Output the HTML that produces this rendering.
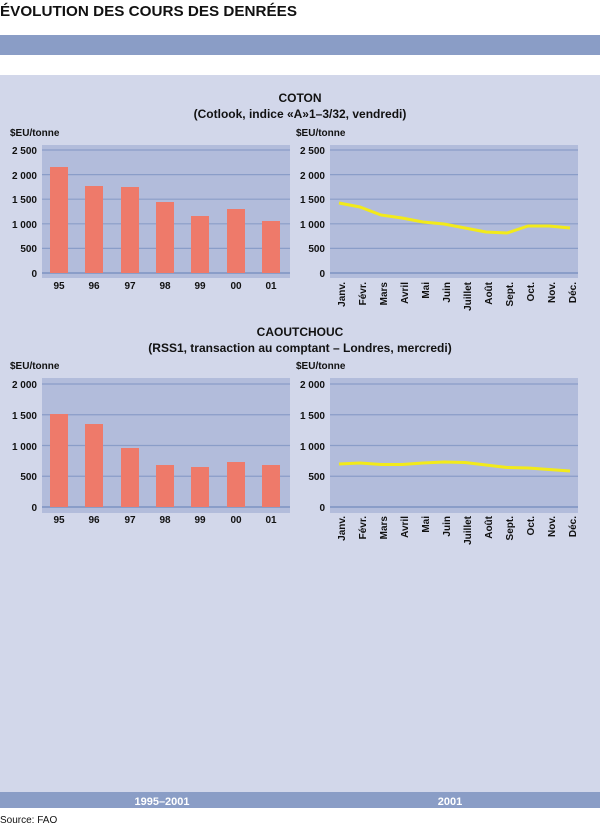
<!DOCTYPE html>
<html><head><meta charset="utf-8"><style>
body{margin:0;background:#fff;}
svg text{font-family:"Liberation Sans",sans-serif;font-weight:bold;fill:#111;}
</style></head><body>
<svg width="600" height="826" xmlns="http://www.w3.org/2000/svg">
<text x="0" y="16" font-size="15" textLength="297" lengthAdjust="spacingAndGlyphs">ÉVOLUTION DES COURS DES DENRÉES</text>
<rect x="0" y="35" width="600" height="20" fill="#8a9dc6"/>
<rect x="0" y="75" width="600" height="717" fill="#d2d7ea"/>
<rect x="0" y="792" width="600" height="16" fill="#8a9dc6"/>
<text x="162" y="805" font-size="11" text-anchor="middle" style="fill:#fff">1995–2001</text>
<text x="450" y="805" font-size="11" text-anchor="middle" style="fill:#fff">2001</text>
<text x="0" y="823" font-size="10" style="font-weight:normal">Source: FAO</text>

<text x="300" y="102" font-size="12" text-anchor="middle">COTON</text>
<text x="300" y="118" font-size="12" text-anchor="middle">(Cotlook, indice «A»1–3/32, vendredi)</text>
<text x="300" y="336" font-size="12" text-anchor="middle">CAOUTCHOUC</text>
<text x="300" y="352" font-size="12" text-anchor="middle">(RSS1, transaction au comptant – Londres, mercredi)</text>

<g font-size="10">
<text x="10" y="136">$EU/tonne</text>
<rect x="42" y="145" width="248" height="133" fill="#b2bcdb"/>
<g stroke="#8a9dc8" stroke-width="1.2">
<line x1="42" x2="290" y1="150" y2="150"/><line x1="42" x2="290" y1="174.6" y2="174.6"/><line x1="42" x2="290" y1="199.2" y2="199.2"/><line x1="42" x2="290" y1="223.8" y2="223.8"/><line x1="42" x2="290" y1="248.4" y2="248.4"/><line x1="42" x2="290" y1="273" y2="273" stroke-width="2"/>
</g>
<g text-anchor="end"><text x="37" y="154">2 500</text><text x="37" y="179">2 000</text><text x="37" y="203">1 500</text><text x="37" y="228">1 000</text><text x="37" y="252">500</text><text x="37" y="277">0</text></g>
<g fill="#ee7a6a">
<rect x="50" y="167" width="18" height="106"/><rect x="85" y="186" width="18" height="87"/><rect x="121" y="187" width="18" height="86"/><rect x="156" y="202" width="18" height="71"/><rect x="191" y="216" width="18" height="57"/><rect x="227" y="209" width="18" height="64"/><rect x="262" y="221" width="18" height="52"/>
</g>
<g text-anchor="middle"><text x="59" y="289">95</text><text x="94" y="289">96</text><text x="130" y="289">97</text><text x="165" y="289">98</text><text x="200" y="289">99</text><text x="236" y="289">00</text><text x="271" y="289">01</text></g>

<text x="296" y="136">$EU/tonne</text>
<rect x="330" y="145" width="248" height="133" fill="#b2bcdb"/>
<g stroke="#8a9dc8" stroke-width="1.2">
<line x1="330" x2="578" y1="150" y2="150"/><line x1="330" x2="578" y1="174.6" y2="174.6"/><line x1="330" x2="578" y1="199.2" y2="199.2"/><line x1="330" x2="578" y1="223.8" y2="223.8"/><line x1="330" x2="578" y1="248.4" y2="248.4"/><line x1="330" x2="578" y1="273" y2="273" stroke-width="2"/>
</g>
<g text-anchor="end"><text x="325" y="154">2 500</text><text x="325" y="179">2 000</text><text x="325" y="203">1 500</text><text x="325" y="228">1 000</text><text x="325" y="252">500</text><text x="325" y="277">0</text></g>
<polyline fill="none" stroke="#f2ea1a" stroke-width="3" stroke-linejoin="round" points="339,203 360,207 381,215 402,218 423,222 444,224 465,228 486,232 507,233 528,226 549,226 570,228"/>
<g text-anchor="end">
<text transform="translate(345,282) rotate(-90)">Janv.</text><text transform="translate(366,282) rotate(-90)">Févr.</text><text transform="translate(387,282) rotate(-90)">Mars</text><text transform="translate(408,282) rotate(-90)">Avril</text><text transform="translate(429,282) rotate(-90)">Mai</text><text transform="translate(450,282) rotate(-90)">Juin</text><text transform="translate(471,282) rotate(-90)">Juillet</text><text transform="translate(492,282) rotate(-90)">Août</text><text transform="translate(513,282) rotate(-90)">Sept.</text><text transform="translate(534,282) rotate(-90)">Oct.</text><text transform="translate(555,282) rotate(-90)">Nov.</text><text transform="translate(576,282) rotate(-90)">Déc.</text>
</g>

<text x="10" y="369">$EU/tonne</text>
<rect x="42" y="378" width="248" height="135" fill="#b2bcdb"/>
<g stroke="#8a9dc8" stroke-width="1.2">
<line x1="42" x2="290" y1="384" y2="384"/><line x1="42" x2="290" y1="414.75" y2="414.75"/><line x1="42" x2="290" y1="445.5" y2="445.5"/><line x1="42" x2="290" y1="476.25" y2="476.25"/><line x1="42" x2="290" y1="507" y2="507" stroke-width="2"/>
</g>
<g text-anchor="end"><text x="37" y="388">2 000</text><text x="37" y="419">1 500</text><text x="37" y="450">1 000</text><text x="37" y="480">500</text><text x="37" y="511">0</text></g>
<g fill="#ee7a6a">
<rect x="50" y="414" width="18" height="93"/><rect x="85" y="424" width="18" height="83"/><rect x="121" y="448" width="18" height="59"/><rect x="156" y="465" width="18" height="42"/><rect x="191" y="467" width="18" height="40"/><rect x="227" y="462" width="18" height="45"/><rect x="262" y="465" width="18" height="42"/>
</g>
<g text-anchor="middle"><text x="59" y="523">95</text><text x="94" y="523">96</text><text x="130" y="523">97</text><text x="165" y="523">98</text><text x="200" y="523">99</text><text x="236" y="523">00</text><text x="271" y="523">01</text></g>

<text x="296" y="369">$EU/tonne</text>
<rect x="330" y="378" width="248" height="135" fill="#b2bcdb"/>
<g stroke="#8a9dc8" stroke-width="1.2">
<line x1="330" x2="578" y1="384" y2="384"/><line x1="330" x2="578" y1="414.75" y2="414.75"/><line x1="330" x2="578" y1="445.5" y2="445.5"/><line x1="330" x2="578" y1="476.25" y2="476.25"/><line x1="330" x2="578" y1="507" y2="507" stroke-width="2"/>
</g>
<g text-anchor="end"><text x="325" y="388">2 000</text><text x="325" y="419">1 500</text><text x="325" y="450">1 000</text><text x="325" y="480">500</text><text x="325" y="511">0</text></g>
<polyline fill="none" stroke="#f2ea1a" stroke-width="3" stroke-linejoin="round" points="339,464 360,463 381,464.5 402,464.5 423,463 444,462 465,462.5 486,465 507,467.5 528,468 549,469.5 570,471"/>
<g text-anchor="end">
<text transform="translate(345,516) rotate(-90)">Janv.</text><text transform="translate(366,516) rotate(-90)">Févr.</text><text transform="translate(387,516) rotate(-90)">Mars</text><text transform="translate(408,516) rotate(-90)">Avril</text><text transform="translate(429,516) rotate(-90)">Mai</text><text transform="translate(450,516) rotate(-90)">Juin</text><text transform="translate(471,516) rotate(-90)">Juillet</text><text transform="translate(492,516) rotate(-90)">Août</text><text transform="translate(513,516) rotate(-90)">Sept.</text><text transform="translate(534,516) rotate(-90)">Oct.</text><text transform="translate(555,516) rotate(-90)">Nov.</text><text transform="translate(576,516) rotate(-90)">Déc.</text>
</g>
</g>
</svg>
</body></html>
